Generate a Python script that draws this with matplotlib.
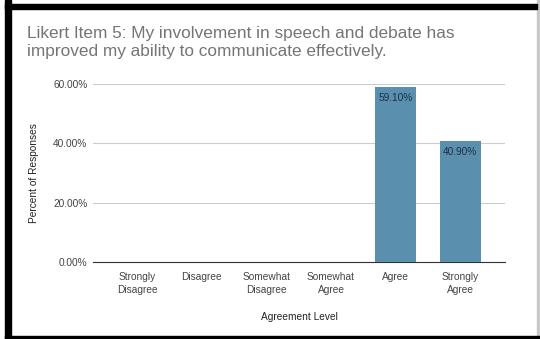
import matplotlib
matplotlib.use("Agg")
import matplotlib.pyplot as plt
from matplotlib.patches import Rectangle
from matplotlib.ticker import FuncFormatter

plt.rcParams['font.family'] = ['Liberation Sans', 'DejaVu Sans']

categories = ["Strongly\nDisagree", "Disagree", "Somewhat\nDisagree",
              "Somewhat\nAgree", "Agree", "Strongly\nAgree"]
percents = [0.0, 0.0, 0.0, 0.0, 59.10, 40.90]
y_ticks = [0, 20, 40, 60]

title = ("Likert Item 5: My involvement in speech and debate has\n"
         "improved my ability to communicate effectively.")

W, H = 540, 339
fig = plt.figure(figsize=(W / 100, H / 100), dpi=100)
fig.patch.set_facecolor('white')

# frame around the whole chart
frame = [
    (5, 0, 6, H),          # left band
    (5, 4, 532, 5),        # top band
    (5, 336, 535, 3),      # bottom band
]
for x, y, w, h in frame:
    fig.patches.append(Rectangle((x / W, 1 - (y + h) / H), w / W, h / H,
                                 transform=fig.transFigure, color='black',
                                 zorder=10))
fig.patches.append(Rectangle((537 / W, 0), 1.5 / W, 1,
                             transform=fig.transFigure, color='#c8c8c8'))

# plot area: x 93..505, y 84..262 (pixels)
ax = fig.add_axes([93 / W, 1 - 262 / H, (505 - 93) / W, (262 - 84) / H])
x = list(range(len(categories)))
bars = ax.bar(x, percents, width=0.63, color='#5a8fae', zorder=3)
for xi, v in zip(x, percents):
    if v > 0:
        ax.text(xi, v - 2.0, f"{v:.2f}%", ha='center', va='top',
                fontsize=7.3, color='#1d3346', zorder=4)

ax.set_xlim(-0.68, 5.69)
ax.set_ylim(0, 60)
ax.set_yticks(y_ticks)
ax.yaxis.set_major_formatter(FuncFormatter(lambda v, p: f"{v:.2f}%"))
ax.set_xticks(x)
ax.set_xticklabels(categories, linespacing=1.45)
ax.grid(axis='y', color='#cccccc', linewidth=0.8, zorder=0)
ax.tick_params(axis='both', length=0, labelsize=7.3, colors='#444444')
ax.tick_params(axis='y', pad=4)
ax.tick_params(axis='x', pad=7)
for s in ['top', 'right', 'left']:
    ax.spines[s].set_visible(False)
ax.spines['bottom'].set_color('#333333')
ax.spines['bottom'].set_linewidth(0.8)
ax.set_axisbelow(True)

ax.set_ylabel("Percent of Responses", fontsize=7.3, color='#222222', labelpad=10)
ax.set_xlabel("Agreement Level", fontsize=7.3, color='#222222', labelpad=12)

fig.text(27 / W, 1 - 26 / H, title, ha='left', va='top', fontsize=12.4,
         color='#757575', linespacing=1.25)

fig.savefig("out.png", dpi=100)
